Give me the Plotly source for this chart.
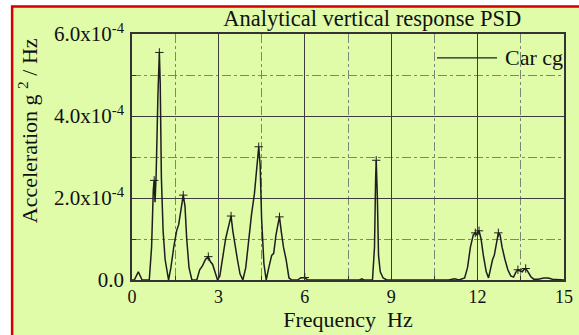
import plotly.graph_objects as go

freq = [0.0, 0.08, 0.22, 0.35, 0.6, 0.68, 0.74, 0.77, 0.8, 0.84, 0.9, 0.95, 0.98, 1.02, 1.08, 1.15, 1.27,
        1.35, 1.45, 1.55, 1.62, 1.7, 1.78, 1.84, 1.9, 1.98, 2.08, 2.25, 2.35, 2.45, 2.55, 2.65, 2.72, 2.8,
        2.88, 2.97, 3.05, 3.15, 3.25, 3.35, 3.44, 3.5, 3.58, 3.66, 3.75, 3.85, 3.95, 4.05, 4.15, 4.25, 4.32,
        4.37, 4.4, 4.45, 4.5, 4.58, 4.66, 4.75, 4.85, 4.92, 5.0, 5.08, 5.12, 5.18, 5.26, 5.35, 5.45, 5.55,
        5.75, 5.85, 6.0, 6.1, 7.9, 7.98, 8.05, 8.35, 8.42, 8.46, 8.48, 8.52, 8.56, 8.62, 8.72, 8.85, 11.0,
        11.2, 11.35, 11.55, 11.65, 11.75, 11.85, 11.92, 11.98, 12.05, 12.12, 12.2, 12.3, 12.38, 12.45, 12.52,
        12.58, 12.65, 12.72, 12.78, 12.85, 12.95, 13.05, 13.15, 13.25, 13.32, 13.4, 13.48, 13.55, 13.6,
        13.67, 13.75, 13.85, 13.95, 14.1, 14.3, 14.45, 14.6, 14.9, 15.0]
psd = [0.0, 0.0, 0.2, 0.0, 0.0, 0.8, 2.2, 2.43, 1.9, 2.6, 4.5, 5.55, 4.8, 2.5, 1.2, 0.5, 0.0,
       0.3, 0.8, 1.2, 1.35, 1.75, 2.07, 1.8, 1.0, 0.3, 0.0, 0.0, 0.25, 0.35, 0.5, 0.57, 0.45, 0.38,
       0.2, 0.0, 0.1, 0.6, 1.0, 1.3, 1.56, 1.2, 0.82, 0.5, 0.15, 0.0, 0.3, 1.0, 1.6, 2.1, 2.6,
       3.0, 3.25, 2.8, 1.5, 0.4, 0.0, 0.3, 0.6, 0.65, 1.1, 1.4, 1.54, 1.2, 0.8, 0.5, 0.05, 0.0,
       0.0, 0.05, 0.06, 0.0, 0.0, 0.03, 0.0, 0.0, 0.8, 2.5, 2.92, 2.0, 0.6, 0.2, 0.05, 0.0, 0.0,
       0.03, 0.0, 0.05, 0.3, 0.8, 1.1, 1.15, 1.1, 1.2, 1.0, 0.6, 0.2, 0.05, 0.3, 0.5,
       0.6, 0.9, 1.15, 1.1, 0.8, 0.5, 0.25, 0.1, 0.07, 0.18, 0.25, 0.22, 0.2, 0.25,
       0.28, 0.2, 0.08, 0.02, 0.02, 0.05, 0.05, 0.02, 0.0, 0.0]

peak_freq = [0.77, 0.95, 1.78, 2.65, 3.44, 4.4, 5.12, 6.0, 8.48, 11.92, 12.05, 12.72, 13.4, 13.67]
peak_psd = [2.43, 5.55, 2.07, 0.57, 1.56, 3.25, 1.54, 0.06, 2.92, 1.15, 1.2, 1.15, 0.25, 0.28]

x_ticks = [0, 3, 6, 9, 12, 15]
y_ticks = [0, 2, 4, 6]
y_ticktext = ["0.0", "2.0x10<sup>-4</sup>", "4.0x10<sup>-4</sup>", "6.0x10<sup>-4</sup>"]
series_name = "Car cg"

BG = "#E0FCA9"
INK = "#1e1e1e"
TXT = "#111111"
SERIF = "Liberation Serif, Times New Roman, serif"

fig = go.Figure()
fig.add_trace(go.Scatter(x=freq, y=psd, mode="lines", name=series_name,
                         line=dict(color=INK, width=1.5), showlegend=False))
fig.add_trace(go.Scatter(x=peak_freq, y=peak_psd, mode="markers", showlegend=False,
                         marker=dict(symbol="cross-thin", size=6,
                                     line=dict(color=INK, width=1))))

# framed background (red border on top/left)
fig.add_shape(type="rect", xref="paper", yref="paper", x0=-0.2775, x1=1.3, y0=-0.6, y1=1.1116,
              fillcolor=BG, line=dict(color="#D40000", width=2.5), layer="below")

# legend sample drawn inside the plot
fig.add_shape(type="line", xref="paper", yref="paper", x0=0.706, x1=0.845, y0=0.903, y1=0.903,
              line=dict(color=INK, width=1.3))
fig.add_annotation(xref="paper", yref="paper", x=0.858, y=0.903, xanchor="left", yanchor="middle",
                   text=series_name, showarrow=False, font=dict(family=SERIF, size=22, color=TXT))

# y-axis title
fig.add_annotation(xref="paper", yref="paper", x=-0.242, y=0.6065, xanchor="center", yanchor="middle",
                   text="Acceleration g <sup>2</sup> / Hz", textangle=-90, showarrow=False,
                   font=dict(family=SERIF, size=22, color=TXT))

axis_common = dict(showline=True, mirror=True, linecolor="#333333", linewidth=1.5,
                   showgrid=True, gridcolor="#3c3c3c", gridwidth=1,
                   ticks="inside", ticklen=5, tickcolor="#333333",
                   zeroline=False, automargin=False)

fig.update_xaxes(range=[0, 15], tickvals=x_ticks, **axis_common,
                 tickfont=dict(family=SERIF, size=18, color=TXT), ticklabelstandoff=0,
                 minor=dict(dtick=1.5, showgrid=True, gridcolor="#7d8672", griddash="dashdot",
                            gridwidth=1, ticks="inside", ticklen=4, tickcolor="#333333"),
                 title=dict(text="Frequency  Hz", font=dict(family=SERIF, size=22, color=TXT),
                            standoff=5))
fig.update_yaxes(range=[0, 6], tickvals=y_ticks, ticktext=y_ticktext, **axis_common,
                 tickfont=dict(family=SERIF, size=21, color=TXT), ticklabelstandoff=2,
                 minor=dict(dtick=1, showgrid=True, gridcolor="#7d8672", griddash="dashdot",
                            gridwidth=1, ticks="inside", ticklen=4, tickcolor="#333333"))

fig.update_layout(
    width=579, height=335,
    margin=dict(l=131.5, r=15, t=34, b=54.5),
    paper_bgcolor="white", plot_bgcolor="rgba(0,0,0,0)",
    title=dict(text="Analytical vertical response PSD", x=0.643, xanchor="center",
               y=0.946, yanchor="middle",
               font=dict(family=SERIF, size=22.5, color=TXT)),
    showlegend=False,
)

fig.write_html("out.html")
